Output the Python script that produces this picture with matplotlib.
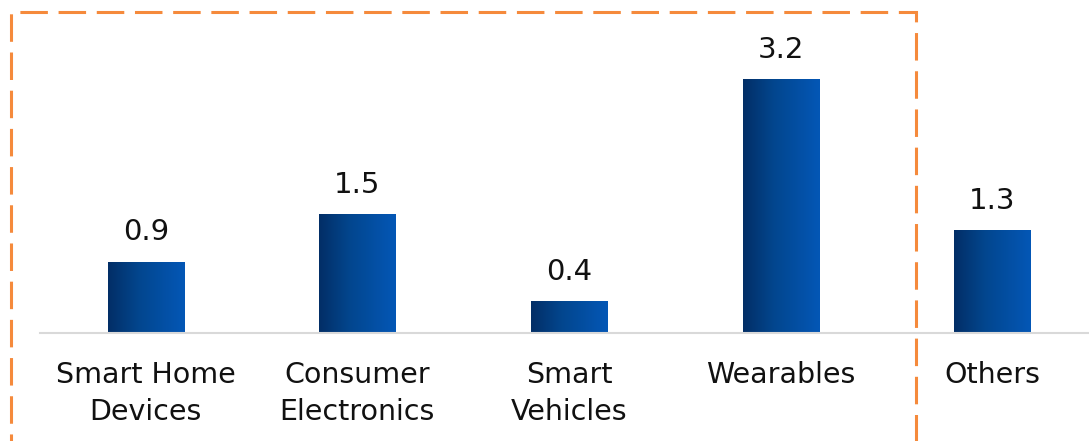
"""Bar chart of segment values with gradient-filled bars and a dashed highlight box."""

import matplotlib.pyplot as plt
import numpy as np
from matplotlib.colors import LinearSegmentedColormap
from matplotlib.patches import Rectangle

# Chart data
categories = ["Smart Home\nDevices", "Consumer\nElectronics", "Smart\nVehicles",
              "Wearables", "Others"]
values = [0.9, 1.5, 0.4, 3.2, 1.3]

W, H, DPI = 1089, 441, 100
BAR_WIDTH = 0.36

plt.rcParams["font.family"] = ["DejaVu Sans"]

# Dark navy on the left fading to bright blue on the right
bar_cmap = LinearSegmentedColormap.from_list(
    "bar_grad", [(0.0, "#032E66"), (0.4, "#02468E"), (1.0, "#0457B6")]
)

fig = plt.figure(figsize=(W / DPI, H / DPI), dpi=DPI)
# axes spans pixel x 40..1098 and y from baseline (333) to top
ax = fig.add_axes([40 / W, (H - 333) / H, 1058 / W, 333 / H])

bars = ax.bar(range(len(values)), values, width=BAR_WIDTH, color="none",
              edgecolor="none")

gradient = np.linspace(0, 1, 256).reshape(1, -1)
for bar, val in zip(bars, values):
    x0 = bar.get_x()
    x1 = x0 + bar.get_width()
    im = ax.imshow(gradient, cmap=bar_cmap, aspect="auto",
                   extent=[x0, x1, 0, bar.get_height()], zorder=2)
    im.set_clip_path(bar)
    ax.annotate(f"{val:.1f}", (bar.get_x() + bar.get_width() / 2, val),
                xytext=(0, 11), textcoords="offset points",
                ha="center", va="bottom", fontsize=21, color="#111111")

ax.set_xlim(-0.5, len(categories) - 0.5)
ax.set_ylim(0, 4.2)

for side in ["top", "right", "left"]:
    ax.spines[side].set_visible(False)
ax.spines["bottom"].set_color("#D9D9D9")
ax.spines["bottom"].set_linewidth(1.5)
ax.set_yticks([])
ax.set_xticks(range(len(categories)))
ax.set_xticklabels(categories, fontsize=20.5, color="#111111", linespacing=1.4)
ax.tick_params(axis="x", length=0, pad=20)

# Dashed orange highlight box around the first four categories
box = Rectangle((11 / W, -0.2), (916 - 11) / W, 1.2 - 12 / H,
                transform=fig.transFigure, fill=False, edgecolor="#F58A3C",
                linewidth=2.2, linestyle=(0, (9, 3.5)), clip_on=False)
fig.add_artist(box)

fig.savefig("out.png", dpi=DPI)
